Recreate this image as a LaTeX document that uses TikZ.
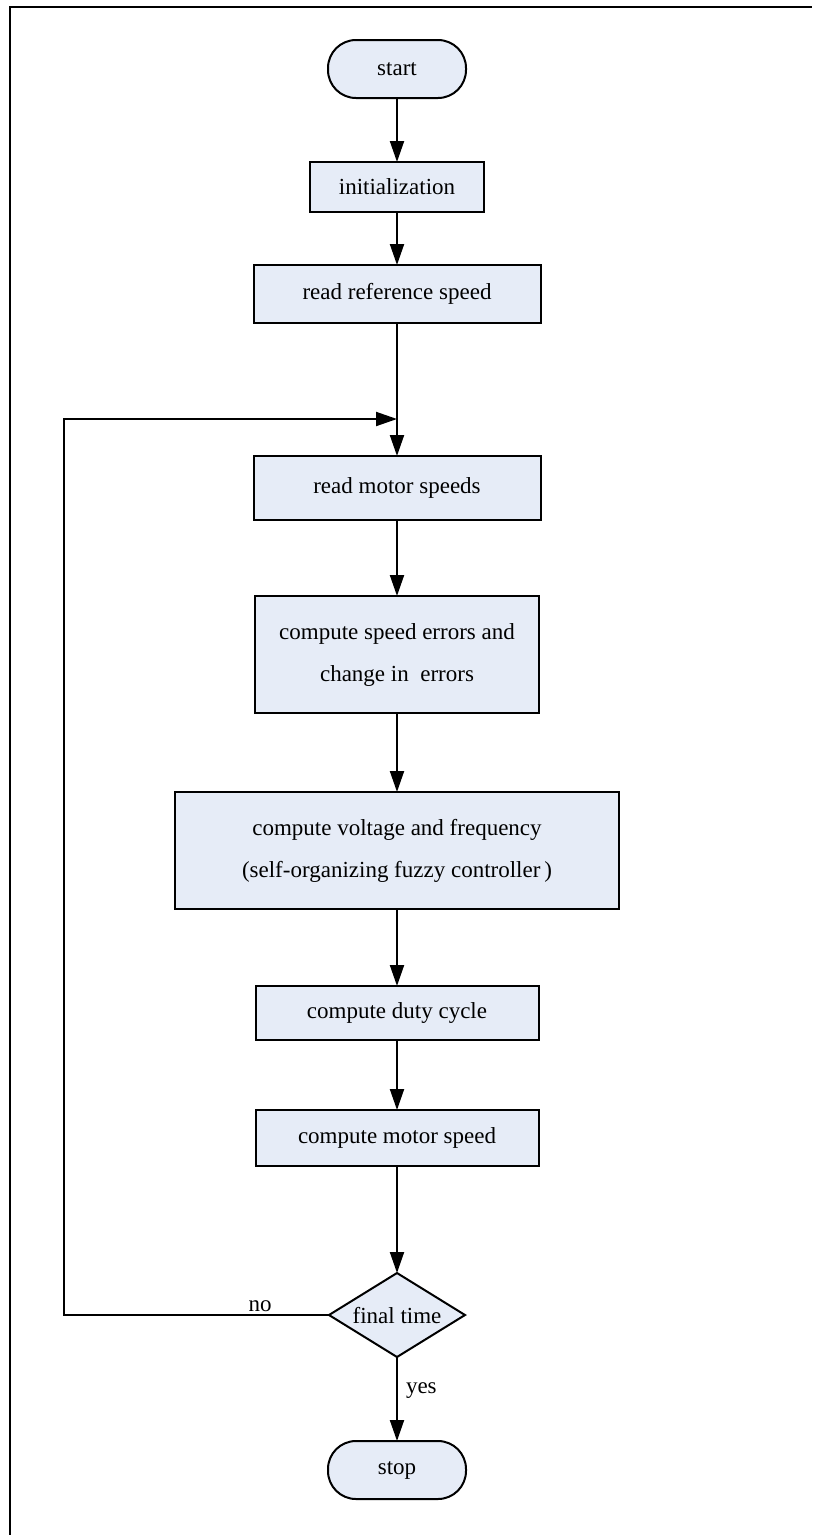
\documentclass[tikz,border=0pt]{standalone}
\usepackage{fontspec}
\setmainfont{Liberation Serif}
\usepackage{tikz}
\usetikzlibrary{arrows.meta, calc, positioning, shapes.geometric}
\definecolor{boxfill}{RGB}{230,236,247}

\begin{document}
\begin{tikzpicture}[x=1pt,y=-1pt,align=center,font=\fontsize{23}{42}\selectfont]
\tikzstyle{step box}=[rectangle,draw=black,line width=2pt,fill=boxfill,inner sep=0pt,outer sep=0pt]
\tikzstyle{terminal}=[step box,rounded corners=28pt,minimum width=138pt,minimum height=58pt]
\tikzstyle{decision}=[diamond,draw=black,line width=2pt,fill=boxfill,inner sep=0pt,outer sep=0pt,aspect=1.62,minimum width=136pt,minimum height=84pt]
\tikzstyle{flow}=[-{Triangle[length=21pt,width=14pt]},line width=2pt]

\useasboundingbox (0,0) rectangle (812,1535);
\draw[line width=2.4pt] (10,1535) |- (812,7);

\node[terminal] (start) at (397,69) {start};
\node[step box, minimum width=174pt, minimum height=50pt] (init) [below = 64pt of start] {initialization};
\node[step box, minimum width=287pt, minimum height=58pt] (ref) [below = 53pt of init] {read reference speed};
\node[step box, minimum width=287pt, minimum height=64pt] (motor) [below = 133pt of ref] {read motor speeds};
\node[step box, minimum width=284pt, minimum height=117pt] (err) [below = 76pt of motor] {compute speed errors and\\change in\ \ errors};
\node[step box, minimum width=444pt, minimum height=117pt] (volt) [below = 79pt of err] {compute voltage and frequency\\(self-organizing fuzzy controller\,)};
\node[step box, minimum width=283pt, minimum height=54pt] (duty) [below = 77pt of volt] {compute duty cycle};
\node[step box, minimum width=283pt, minimum height=56pt] (msp) [below = 70pt of duty] {compute motor speed};
\node[decision] (dec) [below = 107pt of msp] {final time};
\node[terminal] (stop) [below = 84pt of dec] {stop};

\coordinate (join) at ($(ref.south)+(0,96)$);
\coordinate (back) at (64,0 |- dec.west);

\path
  	(start) edge [flow] (init)
  	(init) edge [flow] (ref)
  	(ref) edge [flow] (motor)
  	(motor) edge [flow] (err)
  	(err) edge [flow] (volt)
  	(volt) edge [flow] (duty)
  	(duty) edge [flow] (msp)
  	(msp) edge [flow] (dec)
  	(dec) edge [flow] node[right,pos=0.4,inner sep=8pt] () {yes} (stop);

\draw[flow] (dec.west) -- node[above,pos=0.26,inner sep=2pt] () {no} (back) |- (join);
\end{tikzpicture}
\end{document}
